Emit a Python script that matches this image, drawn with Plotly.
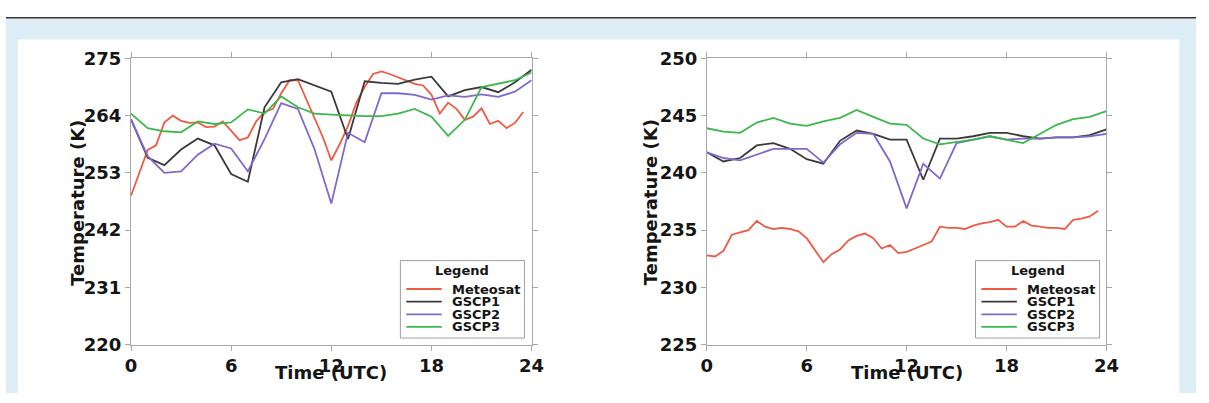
import plotly.graph_objects as go
from plotly.subplots import make_subplots

W, H = 1209, 403

# ---- data -------------------------------------------------------------
hours = list(range(25))
half_hours = [i * 0.5 for i in range(48)]

left_meteosat = [248.6, 253.2, 257.4, 258.3, 262.7, 264.0, 263.0, 262.6, 262.7, 261.8,
                 261.9, 262.9, 261.0, 259.3, 259.8, 262.9, 264.7, 265.3, 268.3, 270.8,
                 270.8, 267.0, 263.5, 259.8, 255.4, 258.5, 262.0, 266.5, 269.5, 272.0,
                 272.5, 272.0, 271.4, 270.8, 270.1, 269.8, 268.0, 264.4, 266.5, 265.3,
                 263.2, 263.8, 265.4, 262.4, 263.0, 261.6, 262.6, 264.7]
left_gscp1 = [263.3, 255.9, 254.5, 257.5, 259.6, 258.3, 252.8, 251.3, 265.6, 270.4,
              271.0, 269.8, 268.6, 259.5, 270.6, 270.3, 270.1, 270.9, 271.5, 267.7,
              268.9, 269.5, 268.5, 270.4, 272.8]
left_gscp2 = [263.3, 256.2, 253.0, 253.3, 256.5, 258.6, 257.7, 253.3, 259.5, 266.4,
              265.3, 257.5, 247.1, 260.7, 258.9, 268.3, 268.3, 268.0, 267.1, 267.9,
              267.6, 268.1, 267.6, 268.6, 270.8]
left_gscp3 = [264.4, 261.6, 261.0, 260.8, 262.9, 262.4, 262.7, 265.2, 264.4, 267.7,
              265.6, 264.4, 264.2, 264.0, 263.9, 263.9, 264.4, 265.3, 263.8, 260.1,
              263.2, 269.5, 270.1, 270.8, 272.3]

right_meteosat = [232.8, 232.7, 233.2, 234.6, 234.8, 235.0, 235.8, 235.3, 235.1, 235.2,
                  235.1, 234.9, 234.3, 233.3, 232.2, 232.9, 233.3, 234.1, 234.5, 234.7,
                  234.3, 233.4, 233.7, 233.0, 233.1, 233.4, 233.7, 234.0, 235.3, 235.2,
                  235.2, 235.1, 235.4, 235.6, 235.7, 235.9, 235.3, 235.3, 235.8, 235.4,
                  235.3, 235.2, 235.2, 235.1, 235.9, 236.0, 236.2, 236.7]
right_gscp1 = [241.8, 241.0, 241.3, 242.4, 242.6, 242.1, 241.2, 240.8, 242.8, 243.7,
               243.4, 242.9, 242.9, 239.4, 243.0, 243.0, 243.2, 243.5, 243.5, 243.2,
               243.0, 243.1, 243.1, 243.3, 243.8]
right_gscp2 = [241.8, 241.3, 241.1, 241.6, 242.1, 242.1, 242.1, 240.9, 242.5, 243.5,
               243.4, 241.0, 236.9, 240.8, 239.5, 242.6, 242.9, 243.2, 242.9, 243.0,
               243.0, 243.1, 243.1, 243.2, 243.4]
right_gscp3 = [243.9, 243.6, 243.5, 244.4, 244.8, 244.3, 244.1, 244.5, 244.8, 245.5,
               244.9, 244.3, 244.2, 243.0, 242.5, 242.7, 242.9, 243.2, 242.9, 242.6,
               243.4, 244.2, 244.7, 244.9, 245.4]

x_ticks = [0, 6, 12, 18, 24]
left_y_ticks = [220, 231, 242, 253, 264, 275]
right_y_ticks = [225, 230, 235, 240, 245, 250]

series_names = ["Meteosat", "GSCP1", "GSCP2", "GSCP3"]
series_colors = ["#ef5a44", "#3a3a3a", "#8068cc", "#3cb84c"]

# ---- helpers ----------------------------------------------------------
def px(x):
    return x / W


def py(y):
    return 1 - y / H


FONT = "DejaVu Sans"

fig = make_subplots(rows=1, cols=2)

left = [(half_hours, left_meteosat), (hours, left_gscp1), (hours, left_gscp2), (hours, left_gscp3)]
right = [(half_hours, right_meteosat), (hours, right_gscp1), (hours, right_gscp2), (hours, right_gscp3)]

for col, sets in ((1, left), (2, right)):
    for (xs, ys), name, color in zip(sets, series_names, series_colors):
        fig.add_trace(
            go.Scatter(x=xs, y=ys, mode="lines", name=name, showlegend=False,
                       line=dict(color=color, width=1.8)),
            row=1, col=col,
        )

axis_common = dict(
    showline=True, linecolor="#a8a8a8", linewidth=1, mirror="allticks",
    ticks="outside", ticklen=5, tickcolor="#a8a8a8", tickwidth=1,
    showgrid=False, zeroline=False,
    tickfont=dict(family=FONT, size=18, color="#151515", weight="bold"),
)

fig.update_xaxes(range=[0, 24], tickvals=x_ticks, **axis_common)
fig.update_xaxes(domain=[px(127), px(534)], row=1, col=1)
fig.update_xaxes(domain=[px(712), px(1118)], row=1, col=2)
fig.update_yaxes(domain=[py(352), py(50)], **axis_common)
fig.update_yaxes(range=[220, 275], tickvals=left_y_ticks, row=1, col=1)
fig.update_yaxes(range=[225, 250], tickvals=right_y_ticks, row=1, col=2)

shapes = [
    # page background: light blue band, white panel, rule at top
    dict(type="rect", xref="paper", yref="paper", x0=0, x1=1, y0=0, y1=py(8),
         fillcolor="#ddedf6", line=dict(width=0), layer="below"),
    dict(type="rect", xref="paper", yref="paper", x0=px(12), x1=px(1192), y0=0, y1=py(30),
         fillcolor="white", line=dict(width=0), layer="below"),
    dict(type="line", xref="paper", yref="paper", x0=0, x1=1, y0=py(7), y1=py(7),
         line=dict(color="#333333", width=1.5)),
]
annotations = []

title_font = dict(family=FONT, size=18, color="#151515", weight="bold")
for x_center, y_title_x in ((330.5, 72.5), (915, 655)):
    annotations.append(dict(text="Time (UTC)", xref="paper", yref="paper",
                            x=px(x_center), y=py(381), xanchor="center", yanchor="middle",
                            showarrow=False, font=title_font))
    annotations.append(dict(text="Temperature (K)", xref="paper", yref="paper",
                            x=px(y_title_x), y=py(202), xanchor="center", yanchor="middle",
                            textangle=-90, showarrow=False, font=title_font))

# legend boxes drawn as shapes and text
legend_font = dict(family=FONT, size=13, color="#151515", weight="bold")
row_y = [293.3, 306.7, 320.0, 333.3]
for box_left in (400.7, 985.0):
    shapes.append(dict(type="rect", xref="paper", yref="paper",
                       x0=px(box_left), x1=px(box_left + 126), y0=py(345), y1=py(263.3),
                       fillcolor="white", line=dict(color="#a0a0a0", width=1)))
    annotations.append(dict(text="Legend", xref="paper", yref="paper",
                            x=px(box_left + 63), y=py(274), xanchor="center", yanchor="middle",
                            showarrow=False, font=legend_font))
    for name, color, yy in zip(series_names, series_colors, row_y):
        shapes.append(dict(type="line", xref="paper", yref="paper",
                           x0=px(box_left + 6), x1=px(box_left + 42), y0=py(yy), y1=py(yy),
                           line=dict(color=color, width=1.8)))
        annotations.append(dict(text=name, xref="paper", yref="paper",
                                x=px(box_left + 50), y=py(yy), xanchor="left", yanchor="middle",
                                showarrow=False, font=legend_font))

fig.update_layout(
    width=W, height=H, autosize=False,
    margin=dict(l=0, r=0, t=0, b=0),
    paper_bgcolor="white", plot_bgcolor="white",
    showlegend=False,
    shapes=shapes, annotations=annotations,
    font=dict(family=FONT),
)

fig.write_html("out.html")
